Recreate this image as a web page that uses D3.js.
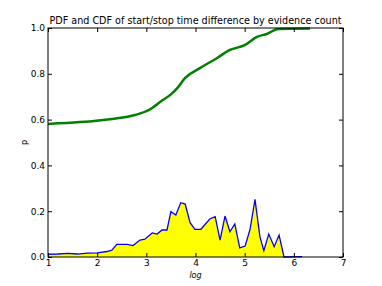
<!DOCTYPE html>
<html><head><meta charset="utf-8">
<script src="https://cdn.jsdelivr.net/npm/d3@7"></script>
<style>body{margin:0;background:#fff;} svg{display:block;font-family:"DejaVu Sans",sans-serif;}</style>
</head><body><svg id="c" width="382" height="286"></svg>
<script>
const cdfX = [1.0,1.65,2.30,2.77,3.05,3.30,3.50,3.62,3.79,4.09,4.44,4.70,5.01,5.25,5.45,5.68,6.33];
const cdfY = [0.581,0.589,0.603,0.620,0.642,0.680,0.710,0.735,0.782,0.825,0.869,0.904,0.926,0.961,0.974,0.996,0.998];
const pdfX = [1.0,1.2,1.4,1.6,1.8,2.0,2.2,2.30,2.40,2.61,2.73,2.87,2.97,3.12,3.22,3.32,3.42,3.50,3.60,3.70,3.79,3.89,3.99,4.11,4.29,4.40,4.50,4.60,4.70,4.80,4.90,5.01,5.11,5.21,5.31,5.39,5.49,5.60,5.70,5.80,6.17];
const pdfY = [0.012,0.013,0.016,0.013,0.017,0.018,0.024,0.030,0.055,0.055,0.050,0.074,0.078,0.105,0.100,0.118,0.118,0.198,0.183,0.237,0.231,0.150,0.121,0.121,0.166,0.176,0.074,0.179,0.110,0.144,0.040,0.048,0.121,0.252,0.089,0.028,0.100,0.045,0.096,0.0,0.002];
const xTicks = [1,2,3,4,5,6,7];
const yTicks = [0.0,0.2,0.4,0.6,0.8,1.0];
const title = "PDF and CDF of start/stop time difference by evidence count";

const svg = d3.select("#c");
const L=48,R=343,T=28,B=257;
const x = d3.scaleLinear().domain([1,7]).range([L,R]);
const y = d3.scaleLinear().domain([0,1]).range([B,T]);

const pdf = pdfX.map((v,i)=>[v,pdfY[i]]);
const cdf = cdfX.map((v,i)=>[v,cdfY[i]]);

svg.append("path").datum(pdf)
  .attr("d", d3.area().x(d=>x(d[0])).y0(y(0)).y1(d=>y(d[1])))
  .attr("fill","#ffff00").attr("stroke","none");
svg.append("path").datum(pdf)
  .attr("d", d3.line().x(d=>x(d[0])).y(d=>y(d[1])))
  .attr("fill","none").attr("stroke","#0000ff").attr("stroke-width",1.3);
svg.append("path").datum(cdf)
  .attr("d", d3.line().curve(d3.curveMonotoneX).x(d=>x(d[0])).y(d=>y(d[1])))
  .attr("fill","none").attr("stroke","#008000").attr("stroke-width",2.5);

svg.append("rect").attr("x",L).attr("y",T).attr("width",R-L).attr("height",B-T)
  .attr("fill","none").attr("stroke","#000").attr("stroke-width",1);

const fmt = d3.format(".1f");
const ax = svg.append("g").attr("transform",`translate(0,${B})`)
  .call(d3.axisBottom(x).tickValues(xTicks).tickSize(-4).tickPadding(3).tickFormat(d3.format("d")));
const ay = svg.append("g").attr("transform",`translate(${L},0)`)
  .call(d3.axisLeft(y).tickValues(yTicks).tickSize(-4).tickPadding(3).tickFormat(fmt));
const axT = svg.append("g").attr("transform",`translate(0,${T})`)
  .call(d3.axisTop(x).tickValues(xTicks).tickSize(-4).tickFormat(""));
const ayR = svg.append("g").attr("transform",`translate(${R},0)`)
  .call(d3.axisRight(y).tickValues(yTicks).tickSize(-4).tickFormat(""));
[ax,ay,axT,ayR].forEach(g=>{
  g.select(".domain").remove();
  g.selectAll("text").attr("font-family","DejaVu Sans, sans-serif").attr("font-size",9).attr("fill","#000");
  g.selectAll("line").attr("stroke","#000");
});

svg.append("text").attr("x",(L+R)/2).attr("y",24).attr("text-anchor","middle")
  .attr("font-size",9.6).attr("textLength",292).attr("lengthAdjust","spacingAndGlyphs").text(title);
svg.append("text").attr("x",(L+R)/2).attr("y",278).attr("text-anchor","middle")
  .attr("font-size",8).attr("font-style","italic").text("log");
svg.append("text").attr("transform",`translate(27,${(T+B)/2}) rotate(-90)`).attr("text-anchor","middle")
  .attr("font-size",8).text("p");
</script></body></html>
